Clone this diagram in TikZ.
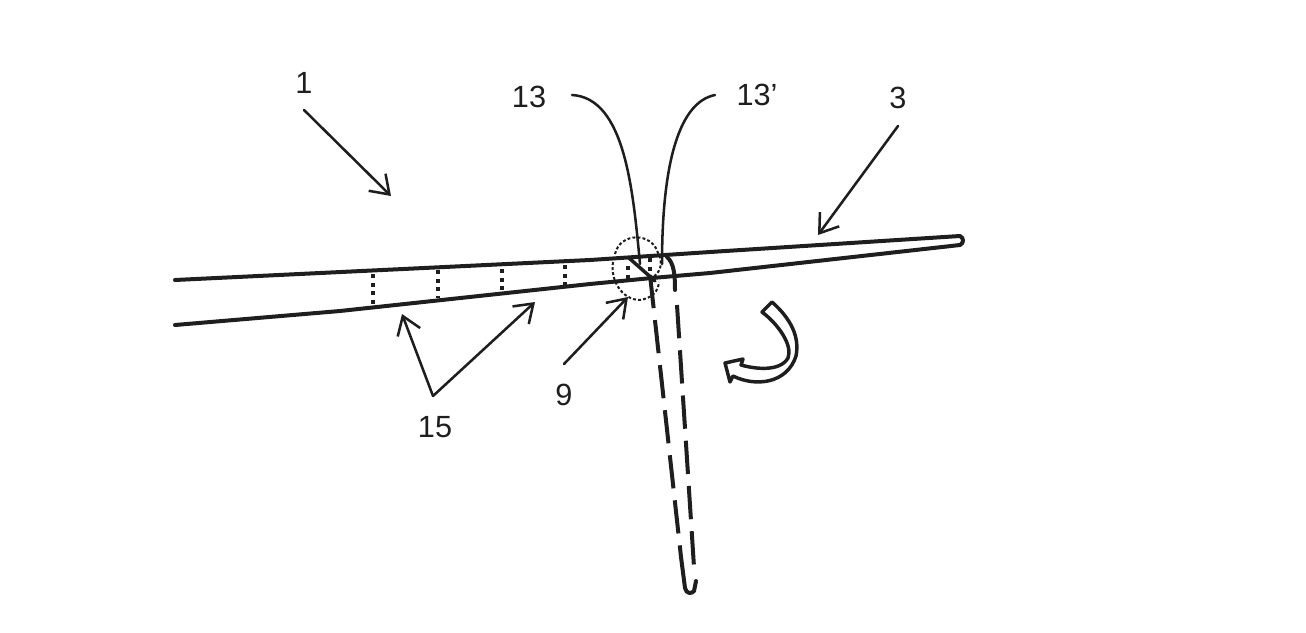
\documentclass[tikz,border=0pt]{standalone}
\usepackage{fontspec}
\setmainfont{Liberation Sans}
\usetikzlibrary{arrows.meta}
\definecolor{ink}{HTML}{1E1E1E}
\tikzset{
  lbl/.style={font=\fontsize{23}{25}\selectfont, text=ink, inner sep=0pt},
  bar/.style={draw=ink, line width=3pt, line cap=round, line join=round},
  hinged/.style={draw=ink, line width=3pt, dash pattern=on 25pt off 9pt},
  hingedsolid/.style={draw=ink, line width=3pt, line cap=round, line join=round},
  dotted line/.style={draw=ink, line width=2.4pt, dash pattern=on 3pt off 3.4pt},
  fineline/.style={draw=ink, line width=1.5pt, dash pattern=on 2.2pt off 1.6pt},
  leader/.style={draw=ink, line width=1.9pt, line cap=round},
  pointer/.style={leader, -{Straight Barb[length=13pt,width=18pt,line width=1.9pt]}},
  curl/.style={draw=ink, line width=2.6pt, line join=round, fill=white}
}
\begin{document}
\begin{tikzpicture}[x=0.75pt,y=-0.75pt]
\useasboundingbox (0,0) rectangle (1306,632);
% labels
\node[lbl] (n1) at (304,83) {1};
\node[lbl] (n13) at (529,97) {13};
\node[lbl] (n13p) at (757,95) {13’};
\node[lbl] (n3) at (898,98) {3};
\node[lbl] (n15) at (435,427) {15};
\node[lbl] (n9) at (564,395) {9};
% anchor points
\coordinate (a1s) at (304,110);   \coordinate (a1e) at (391,196);
\coordinate (a3s) at (898,126);   \coordinate (a3e) at (818,235);
\coordinate (a15) at (433,396);   \coordinate (a15l) at (402,314); \coordinate (a15r) at (535,302);
\coordinate (a9s) at (564,364);   \coordinate (a9e) at (628,297);
\coordinate (a13s) at (572,95);   \coordinate (a13e) at (640,264);
\coordinate (a13ps) at (715,95);  \coordinate (a13pe) at (662,264);
% blade
\draw[bar] (175,280) -- (590,260) -- (710,252) -- (960,236) .. controls (964,238) and (964,243) .. (960,245) -- (710,273) -- (652,278) -- (590,284) -- (340,311) -- (175,325);
% hinged position
\draw[hinged] (650,275) -- (681,557);
\draw[hingedsolid] (681,557) -- (685,588) .. controls (686,594) and (692,594) .. (694,591) -- (696,581);
\draw[hingedsolid] (667,257) .. controls (674,263) and (675,275) .. (675,290);
\draw[hinged] (677,305) -- (694,567);
% fold line
\draw[draw=ink, line width=2.6pt, line cap=round] (629,258) -- (655,281);
% rib marks
\foreach \mx/\mt/\mb in {373/274/304, 438/270/298, 502/269/292, 565/265/288}
  \draw[dotted line] (\mx,\mt) -- (\mx,\mb);
\draw[dotted line] (628,266) -- (628,280);
\draw[dotted line] (650,258) -- (650,272);
% detail circles
\draw[fineline] (615,254) .. controls (620,232) and (652,232) .. (658,253) .. controls (664,264) and (660,274) .. (650,279);
\draw[fineline] (613,262) .. controls (610,280) and (622,300) .. (640,300) .. controls (652,298) and (658,292) .. (659,282);
% leaders
\draw[leader] (a13s) .. controls (625,98) and (633,190) .. (a13e);
\draw[leader] (a13ps) .. controls (680,102) and (662,160) .. (a13pe);
\draw[pointer] (a1s) -- (a1e);
\draw[pointer] (a3s) -- (a3e);
\draw[pointer] (a15) -- (a15l);
\draw[pointer] (a15) -- (a15r);
\draw[pointer] (a9s) -- (a9e);
% curved arrow
\draw[curl] (772,302) -- (762,312) .. controls (778,324) and (793,345) .. (788,358)
  .. controls (780,372) and (755,369) .. (741,365) -- (743,359) -- (725,363) -- (730,382) -- (733,376)
  .. controls (755,387) and (787,384) .. (796,356) .. controls (800,336) and (790,318) .. cycle;
\end{tikzpicture}
\end{document}
